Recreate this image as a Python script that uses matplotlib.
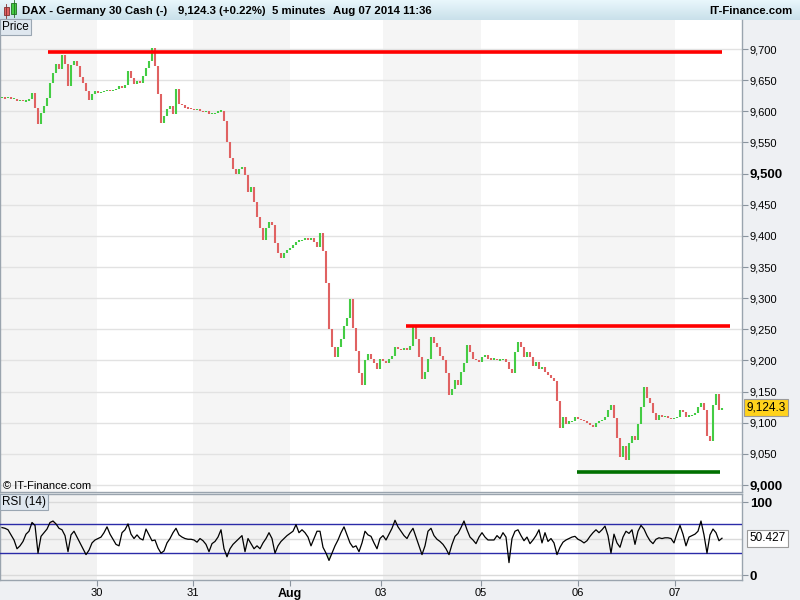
import numpy as np
import matplotlib
matplotlib.use('Agg')
import matplotlib.pyplot as plt
from matplotlib.transforms import blended_transform_factory
from matplotlib.patches import Rectangle
from matplotlib.colors import LinearSegmentedColormap

plt.rcParams['font.family'] = ['Liberation Sans', 'DejaVu Sans']

# ---- data: DAX 5-minute chart, close sampled along the session ----
close = [
    9622, 9621, 9623, 9620, 9620, 9617, 9618, 9616, 9617, 9620,
    9630, 9605, 9580, 9598, 9608, 9622, 9645, 9662, 9676, 9668,
    9690, 9676, 9640, 9674, 9681, 9672, 9655, 9645, 9633, 9618,
    9628, 9632, 9630, 9631, 9633, 9635, 9632, 9634, 9636, 9640,
    9638, 9642, 9664, 9653, 9644, 9648, 9645, 9656, 9670, 9680,
    9702, 9672, 9628, 9582, 9592, 9603, 9608, 9596, 9636, 9612,
    9610, 9606, 9605, 9604, 9602, 9603, 9601, 9599, 9600, 9596,
    9596, 9597, 9600, 9601, 9585, 9550, 9525, 9508, 9500, 9508,
    9510, 9497, 9470, 9478, 9455, 9430, 9412, 9394, 9412, 9422,
    9418, 9388, 9372, 9365, 9372, 9378, 9381, 9386, 9390, 9393,
    9393, 9396, 9394, 9397, 9390, 9382, 9405, 9375, 9325, 9250,
    9222, 9205, 9222, 9235, 9255, 9268, 9298, 9252, 9215, 9180,
    9160, 9200, 9210, 9203, 9196, 9186, 9203, 9199, 9196, 9203,
    9207, 9222, 9219, 9216, 9220, 9217, 9224, 9255, 9234, 9206,
    9170, 9182, 9203, 9238, 9228, 9222, 9207, 9201, 9180, 9145,
    9154, 9168, 9160, 9182, 9196, 9225, 9214, 9202, 9200, 9197,
    9205, 9208, 9203, 9202, 9203, 9200, 9201, 9202, 9197, 9186,
    9180, 9213, 9230, 9222, 9206, 9213, 9206, 9191, 9198, 9186,
    9190, 9182, 9176, 9172, 9167, 9135, 9092, 9110, 9098, 9102,
    9102, 9109, 9106, 9105, 9102, 9099, 9097, 9093, 9099, 9102,
    9104, 9110, 9120, 9128, 9108, 9076, 9045, 9063, 9040, 9068,
    9078, 9072, 9098, 9126, 9158, 9140, 9131, 9115, 9104, 9112,
    9110, 9111, 9108, 9106, 9107, 9110, 9121, 9117, 9109, 9112,
    9112, 9116, 9125, 9131, 9120, 9078, 9070, 9128, 9146, 9120, 9124.3,
]

# RSI(14) values read along the same samples
rsi = [
    65, 64, 62, 55, 48, 36, 40, 46, 56, 60,
    72, 68, 30, 53, 58, 63, 72, 74, 70, 64,
    62, 54, 32, 55, 60, 52, 44, 36, 28, 34,
    44, 48, 50, 52, 58, 66, 56, 49, 42, 40,
    58, 62, 70, 56, 50, 55, 50, 48, 63, 55,
    47, 48, 37, 30, 33, 44, 50, 58, 64, 55,
    52, 50, 49, 49, 48, 45, 50, 47, 42, 32,
    43, 46, 52, 62, 36, 25, 36, 42, 46, 50,
    54, 32, 50,
    43, 36, 40, 36, 44, 50, 58, 50, 30, 40,
    46, 50, 54, 57, 60, 69, 58, 62, 58, 52,
    40, 50, 60, 60, 38, 30, 20, 30, 40, 48,
    58, 66, 55, 44, 38, 40, 32, 44, 60, 55,
    53, 44, 36, 50, 54, 48, 56, 64, 75, 66,
    60, 54, 50, 58, 64, 52, 40, 28, 40, 60,
    64, 54, 49, 46, 42, 36, 28, 42, 53, 57,
    65, 74, 62, 52, 48, 43, 52, 58, 52, 48,
    48,
    48, 54, 50, 58, 52, 17, 50, 60, 62, 54,
    47, 52, 43, 48, 54, 62, 44, 58, 46, 50,
    44, 28, 38, 45, 48, 50, 52, 53, 49, 47,
    44, 47, 53, 58, 62, 58, 62, 67, 54, 30,
    56, 44, 38, 52, 60, 57, 62, 42, 60, 68,
    63, 54, 47, 43, 49, 51, 50, 51, 51, 50,
    44, 57, 68, 56, 40, 52, 54, 56, 60, 74,
    55, 30, 55, 63, 58, 47, 50.427,
]

day_ticks = [31.7, 63.7, 96.0, 126.3, 159.7, 192.0, 224.3]
day_labels = ['30', '31', 'Aug', '03', '05', '06', '07']
band_edges = [-0.7, 31.7, 63.7, 96.0, 127.0, 159.7, 192.0, 224.3, 246.7]

resistance_top = 9696
resistance_top_span = (15.3, 240.0)
resistance_mid = 9255
resistance_mid_span = (134.7, 242.7)
support_low = 9021
support_low_span = (191.7, 239.3)

price_ticks = list(range(9000, 9701, 50))
bold_price_ticks = [9000, 9500]
last_price_text = '9,124.3'
last_price = 9124.3
rsi_last_text = '50.427'
rsi_last = 50.427

title_main = 'DAX - Germany 30 Cash (-)'
title_quote = '9,124.3 (+0.22%)'
title_period = '5 minutes'
title_date = 'Aug 07 2014 11:36'
brand = 'IT-Finance.com'

# ---- derived ----
c = np.array(close, dtype=float)
r = np.array(rsi, dtype=float)
n = len(c)
idx = np.arange(n)
o = np.r_[c[0], c[:-1]]

W, H = 800, 600
fig = plt.figure(figsize=(8, 6), dpi=100)
fig.patch.set_facecolor('#eef0f3')

def fx(px):
    return px / W

def fy(py):
    return 1 - py / H

# title bar
tax = fig.add_axes([0, fy(20), 1, 20 / H])
grad = np.linspace(0, 1, 50).reshape(-1, 1)
cm = LinearSegmentedColormap.from_list('t', ['#e9f7fc', '#c9e0ea'])
tax.imshow(grad, aspect='auto', cmap=cm, extent=[0, 1, 0, 1], origin='upper')
tax.set_axis_off()
tax.add_patch(Rectangle((3.5 / W, 0.25), 5 / W, 0.4, transform=tax.transAxes, fc='#e06060', ec='#803030', lw=0.6))
tax.add_patch(Rectangle((11 / W, 0.3), 5 / W, 0.55, transform=tax.transAxes, fc='#44cc44', ec='#207020', lw=0.6))
tax.plot([6 / W, 6 / W], [0.1, 0.8], color='#803030', lw=0.6, transform=tax.transAxes)
tax.plot([13.5 / W, 13.5 / W], [0.15, 0.98], color='#207020', lw=0.6, transform=tax.transAxes)
tfs = 8.2
for xpx, s in [(22, title_main), (178, title_quote), (272, title_period), (333, title_date)]:
    fig.text(fx(xpx), fy(10.5), s, fontsize=tfs, fontweight='bold', va='center', ha='left')
fig.text(fx(792), fy(10.5), brand, fontsize=tfs, fontweight='bold', va='center', ha='right')

# main price axes
ax = fig.add_axes([0, fy(492), fx(742), (492 - 20) / H])
ax.set_facecolor('white')
for i in range(0, len(band_edges) - 1, 2):
    ax.axvspan(band_edges[i], band_edges[i + 1], color='#f5f5f5', lw=0, zorder=0)
ax.set_xlim(-0.67, 246.67)
ax.set_ylim(8988.8, 9746.6)
for p in price_ticks:
    ax.axhline(p, color='#e2e2e2', lw=1, zorder=1)

up = c >= o
lo = np.minimum(o, c)
hi = np.maximum(o, c)
small = (hi - lo) < 1.2
lo = np.where(small, lo - 0.6, lo)
hi = np.where(small, hi + 0.6, hi)
ax.vlines(idx[up], lo[up], hi[up], color='#44cc44', lw=1.5, zorder=3)
ax.vlines(idx[~up], lo[~up], hi[~up], color='#e06262', lw=1.5, zorder=3)

ax.hlines(resistance_top, *resistance_top_span, color='#ff0000', lw=2.6, zorder=4)
ax.hlines(resistance_mid, *resistance_mid_span, color='#ff0000', lw=2.6, zorder=4)
ax.hlines(support_low, *support_low_span, color='#007000', lw=2.6, zorder=4)

ax.yaxis.tick_right()
ax.set_yticks(price_ticks)
ax.set_yticklabels([f'{p:,}' for p in price_ticks])
for lab, p in zip(ax.get_yticklabels(), price_ticks):
    if p in bold_price_ticks:
        lab.set_fontweight('bold')
        lab.set_fontsize(9.5)
    else:
        lab.set_fontsize(8)
ax.tick_params(axis='y', direction='out', length=4, width=0.8, color='#8a949e', pad=1.5)
ax.set_xticks([])
ax.spines['top'].set_visible(False)
for s in ['left', 'right', 'bottom']:
    ax.spines[s].set_color('#9aa4ae')
    ax.spines[s].set_linewidth(1)

tr = blended_transform_factory(ax.transAxes, ax.transData)
ax.text(1.006, last_price, last_price_text, transform=tr, va='center', ha='left', fontsize=8.5,
        bbox=dict(boxstyle='square,pad=0.2', fc='#ffd21c', ec='#9a9a9a', lw=0.8), clip_on=False, zorder=6)

fig.text(fx(2), fy(27), 'Price', fontsize=8.5, va='center', ha='left',
         bbox=dict(boxstyle='square,pad=0.18', fc='#dfe7ef', ec='#9aa6b2', lw=0.8))
fig.text(fx(3), fy(486), '© IT-Finance.com', fontsize=8, va='center', ha='left')

# RSI axes
rax = fig.add_axes([0, fy(580), fx(742), (580 - 494) / H])
rax.set_facecolor('white')
for i in range(0, len(band_edges) - 1, 2):
    rax.axvspan(band_edges[i], band_edges[i + 1], color='#f2f2f2', lw=0, zorder=0)
rax.set_xlim(-0.67, 246.67)
rax.set_ylim(-6.8, 111)
for p in [0, 50, 100]:
    rax.axhline(p, color='#dadada', lw=1, zorder=1)
rax.fill_between(idx, r, 30, where=r < 30, color='#c4e8bc', lw=0, zorder=2, interpolate=True)
rax.fill_between(idx, r, 70, where=r > 70, color='#f4cccc', lw=0, zorder=2, interpolate=True)
rax.axhline(70, color='#2b2ba8', lw=1, zorder=3)
rax.axhline(30, color='#2b2ba8', lw=1, zorder=3)
rax.plot(idx, r, color='black', lw=0.9, zorder=4)

rax.yaxis.tick_right()
rax.set_yticks([0, 100])
rax.set_yticklabels(['0', '100'], fontweight='bold', fontsize=9.5)
rax.tick_params(axis='y', direction='out', length=4, width=0.8, color='#8a949e', pad=1.5)
rax.set_xticks(day_ticks)
rax.set_xticklabels(day_labels, fontsize=8)
for lab, t in zip(rax.get_xticklabels(), day_labels):
    if t == 'Aug':
        lab.set_fontweight('bold')
        lab.set_fontsize(9)
rax.tick_params(axis='x', direction='out', length=4, width=0.8, color='#8a949e', pad=2)
for s in ['top', 'left', 'right', 'bottom']:
    rax.spines[s].set_color('#9aa4ae')
    rax.spines[s].set_linewidth(1)
trr = blended_transform_factory(rax.transAxes, rax.transData)
rax.text(1.01, rsi_last, rsi_last_text, transform=trr, va='center', ha='left', fontsize=8.5,
         bbox=dict(boxstyle='square,pad=0.2', fc='white', ec='#9a9a9a', lw=0.8), clip_on=False, zorder=6)
fig.text(fx(2), fy(502), 'RSI (14)', fontsize=8.5, va='center', ha='left',
         bbox=dict(boxstyle='square,pad=0.18', fc='#dfe7ef', ec='#9aa6b2', lw=0.8))

fig.savefig('out.png', dpi=100, facecolor=fig.get_facecolor())
